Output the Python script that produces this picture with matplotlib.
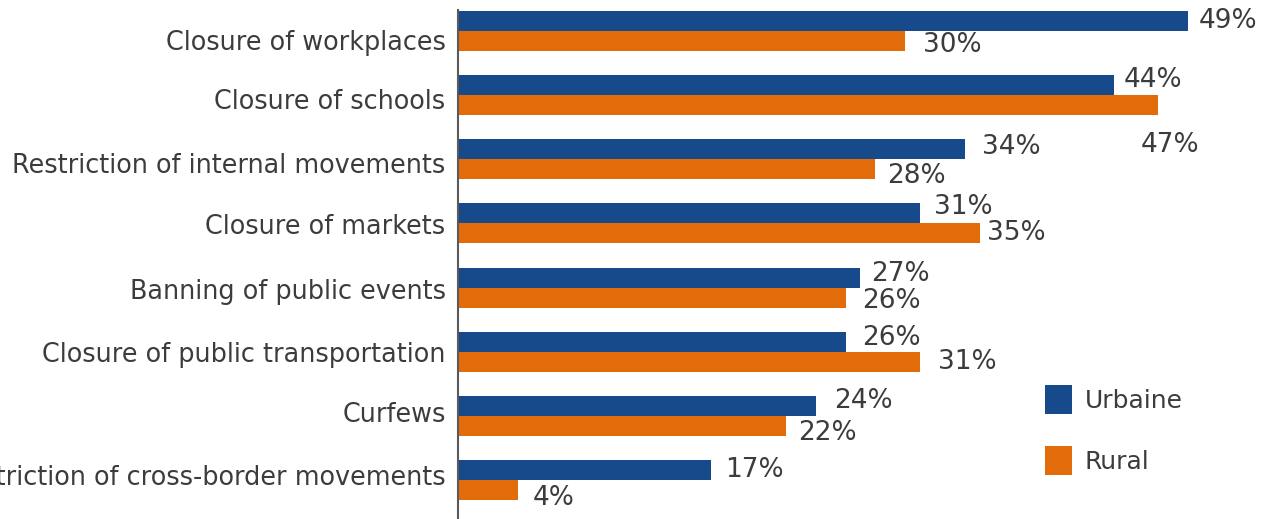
import matplotlib
matplotlib.use("Agg")
import matplotlib.pyplot as plt
import matplotlib.transforms as mtransforms
import numpy as np

categories = [
    "Closure of workplaces",
    "Closure of schools",
    "Restriction of internal movements",
    "Closure of markets",
    "Banning of public events",
    "Closure of public transportation",
    "Curfews",
    "Restriction of cross-border movements",
]
urbaine = [49, 44, 34, 31, 27, 26, 24, 17]
rural = [30, 47, 28, 35, 26, 31, 22, 4]
series_names = ["Urbaine", "Rural"]

# label nudges (pixels): (dx from bar end, dy from bar centre, +dy is down)
urb_nudge = [(10, 0), (10, -5), (17, -2), (14, -6), (11, -4), (17, -4), (18, -5), (14, 0)]
rur_nudge = [(18, 4), (-18, 40), (12, 7), (7, 0), (17, 3), (18, 0), (12, 7), (15, 8)]
# vertical nudges of the category labels (pixels, +down)
tick_nudge = [9, 4, 4, 1, 1, 0, -4, -5]

BLUE = "#174a8b"
ORANGE = "#e36c0a"
TEXT = "#3c3c3c"
FS_TICK = 18.4
FS_VAL = 19
FS_LEG = 18

plt.rcParams["font.family"] = ["DejaVu Sans"]

fig = plt.figure(figsize=(12.61, 5.19), dpi=100)
ax = fig.add_axes([458 / 1261, 0.0, (1233 - 458) / 1261, 509 / 519])

y = np.arange(len(categories))
h = 0.312
ax.barh(y - h / 2, urbaine, height=h, color=BLUE, label=series_names[0])
ax.barh(y + h / 2, rural, height=h, color=ORANGE, label=series_names[1])

for i, v in enumerate(urbaine):
    dx, dy = urb_nudge[i]
    ax.annotate(f"{v}%", (v, y[i] - h / 2), xytext=(dx, -dy),
                textcoords="offset pixels", ha="left", va="center",
                fontsize=FS_VAL, color=TEXT)
for i, v in enumerate(rural):
    dx, dy = rur_nudge[i]
    ax.annotate(f"{v}%", (v, y[i] + h / 2), xytext=(dx, -dy),
                textcoords="offset pixels", ha="left", va="center",
                fontsize=FS_VAL, color=TEXT)

ax.set_xlim(0, 52)
ax.set_ylim(len(categories) - 1 + 0.61, -0.328)
ax.set_yticks(y)
ax.set_yticklabels(categories, fontsize=FS_TICK, color=TEXT)
ax.tick_params(axis="y", length=0, pad=9)
ax.set_xticks([])
for lab, dy in zip(ax.get_yticklabels(), tick_nudge):
    lab.set_transform(lab.get_transform() +
                      mtransforms.ScaledTranslation(0, -dy / 100, fig.dpi_scale_trans))
for s in ["top", "right", "bottom"]:
    ax.spines[s].set_visible(False)
ax.spines["left"].set_color("#5a5a5a")
ax.spines["left"].set_linewidth(1.5)

leg = fig.legend(loc="upper left", bbox_to_anchor=(1045 / 1261, 1 - 385 / 519),
                 frameon=False, fontsize=FS_LEG, handlelength=1.08, handleheight=1.4,
                 handletextpad=0.5, labelspacing=1.3, borderpad=0, borderaxespad=0)
for t in leg.get_texts():
    t.set_color(TEXT)

fig.savefig("out.png", dpi=100)
